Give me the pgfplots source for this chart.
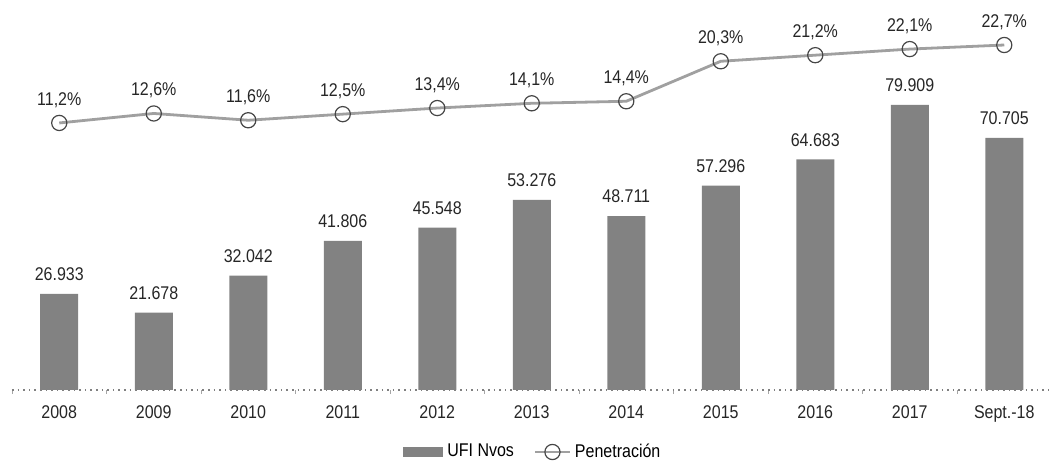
\documentclass[border=0pt]{standalone}
\usepackage{pgfplots}
\pgfplotsset{compat=1.18}
\usepackage{pgfplotstable}
\usepackage{fontspec}
\setmainfont{Liberation Sans}[FakeStretch=0.87]
\definecolor{barg}{RGB}{130,130,130}
\definecolor{lineg}{RGB}{160,160,160}
\definecolor{markd}{RGB}{70,70,70}
\definecolor{markf}{RGB}{225,225,225}
\newcommand{\lblfont}{\fontsize{9.2}{11}\selectfont}

\pgfplotstableread{
x y lab
0 26933 26.933
1 21678 21.678
2 32042 32.042
3 41806 41.806
4 45548 45.548
5 53276 53.276
6 48711 48.711
7 57296 57.296
8 64683 64.683
9 79909 79.909
10 70705 70.705
}\ufidata

\pgfplotstableread{
x y lab
0 11.2 {11,2\%}
1 12.6 {12,6\%}
2 11.6 {11,6\%}
3 12.5 {12,5\%}
4 13.4 {13,4\%}
5 14.1 {14,1\%}
6 14.4 {14,4\%}
7 20.3 {20,3\%}
8 21.2 {21,2\%}
9 22.1 {22,1\%}
10 22.7 {22,7\%}
}\pendata

\begin{document}
\begin{tikzpicture}
\path[use as bounding box] (-6pt,-37pt) rectangle (518.5pt,195pt);
\begin{axis}[
  at={(0,0)}, anchor=south west,
  scale only axis, width=519.75pt, height=185pt,
  xmin=-0.5, xmax=10.5, ymin=0, ymax=103730,
  axis y line=none, axis x line*=bottom,
  x axis line style={draw=gray, dotted, thick, -},
  xtick={0,...,10},
  xticklabels={2008,2009,2010,2011,2012,2013,2014,2015,2016,2017,Sept.-18},
  major tick length=0pt,
  minor xtick={-0.5,0.5,...,10.5},
  minor tick length=2pt,
  minor tick style={gray!70},
  tick align=outside,
  xticklabel style={font=\lblfont, yshift=-4.5pt, text=black!85},
  clip=false,
  nodes near coords={\pgfplotspointmeta},
  point meta=explicit symbolic,
  every node near coord/.append style={font=\lblfont, text=black!85, anchor=south, yshift=3pt},
]
\addplot[ybar, bar width=19pt, fill=barg, draw=none] table[x=x, y=y, meta=lab] {\ufidata};
\end{axis}
\begin{axis}[
  at={(0,0)}, anchor=south west,
  scale only axis, width=519.75pt, height=185pt,
  xmin=-0.5, xmax=10.5, ymin=-28.2, ymax=26.39,
  axis lines=none,
  clip=false,
  nodes near coords={\pgfplotspointmeta},
  point meta=explicit symbolic,
  every node near coord/.append style={font=\lblfont, text=black!85, anchor=south, yshift=4pt},
  legend style={at={(0.502,-0.1676)}, anchor=center, draw=none, fill=none,
    font=\lblfont, legend columns=-1,
    /tikz/every even column/.append style={column sep=8pt}},
  legend cell align=left,
]
\addlegendimage{area legend, fill=barg, draw=none,
  legend image code/.code={\fill[barg] (0pt,-2.5pt) rectangle (20pt,2.5pt);}}
\addlegendentry{UFI Nvos}
\addplot[lineg, line width=1.4pt, mark=o, mark size=3.8pt,
  mark options={draw=markd, fill=markf, line width=0.6pt, solid}]
  table[x=x, y=y, meta=lab] {\pendata};
\addlegendentry{Penetración}
\end{axis}
\end{tikzpicture}
\end{document}
